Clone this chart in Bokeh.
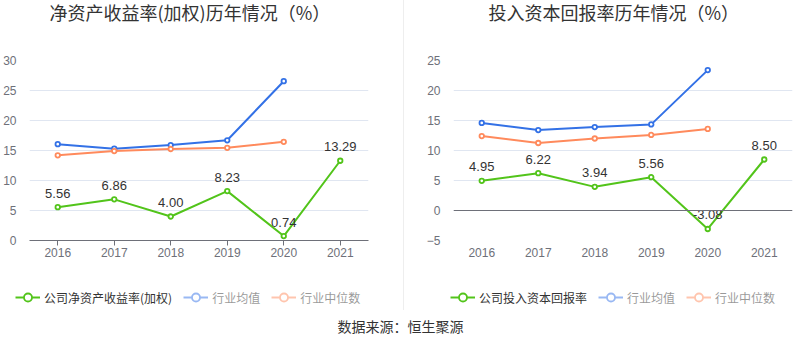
from bokeh.plotting import figure
from bokeh.models import (Range1d, FactorRange, FixedTicker, Legend, LegendItem,
                          Span, Label, Spacer, ColumnDataSource)
from bokeh.layouts import row, column
from bokeh.embed import file_html
from bokeh.resources import INLINE
from bokeh.core.properties import value

# ---------------- data ----------------
years = ["2016", "2017", "2018", "2019", "2020", "2021"]
industry_years = ["2016", "2017", "2018", "2019", "2020"]

roe_company = [5.56, 6.86, 4.00, 8.23, 0.74, 13.29]
roe_mean = [16.05, 15.3, 15.9, 16.7, 26.55]
roe_median = [14.2, 14.9, 15.25, 15.45, 16.45]
roe_ticks = [0, 5, 10, 15, 20, 25, 30]

roic_company = [4.95, 6.22, 3.94, 5.56, -3.08, 8.50]
roic_mean = [14.6, 13.4, 13.9, 14.35, 23.4]
roic_median = [12.4, 11.25, 12.0, 12.6, 13.6]
roic_ticks = [-5, 0, 5, 10, 15, 20, 25]

GREEN = "#52c41a"
BLUE = "#3371e6"
ORANGE = "#ff8a5c"
GRID = "#e0e6f1"
AXIS = "#6e7079"
CJK = "Noto Sans CJK SC"
LATIN = "Liberation Sans"
NAN = float("nan")


def blank(width, height):
    f = figure(width=width, height=height, output_backend="svg", toolbar_location=None,
               x_range=Range1d(0, width), y_range=Range1d(0, height),
               x_axis_location=None, y_axis_location=None, min_border=0,
               frame_align=False)
    f.outline_line_color = None
    f.grid.visible = False
    return f


def title_fig(text, width, x):
    t = blank(width, 30)
    t.add_layout(Label(x=x, y=19, text=text, text_align="left", text_baseline="middle",
                       text_font=CJK, text_font_size="18px", text_color="#333333"))
    return t


def legend_fig(company_label, width, x):
    f = blank(width, 35)
    # swatch-only renderers (no drawable points)
    sw = ColumnDataSource(dict(x=[NAN], y=[NAN]))
    lc = f.line("x", "y", source=sw, line_color=GREEN, line_width=2)
    sc = f.scatter("x", "y", source=sw, line_color=GREEN, line_width=1.8, fill_color="white")
    ml = f.line("x", "y", source=sw, line_color=BLUE, line_width=2, visible=False)
    ms = f.scatter("x", "y", source=sw, line_color=BLUE, line_width=1.8, fill_color="white",
                   visible=False)
    dl = f.line("x", "y", source=sw, line_color=ORANGE, line_width=2, visible=False)
    ds = f.scatter("x", "y", source=sw, line_color=ORANGE, line_width=1.8, fill_color="white",
                   visible=False)
    legend = Legend(items=[
        LegendItem(label=company_label, renderers=[lc, sc]),
        LegendItem(label="行业均值", renderers=[ml, ms]),
        LegendItem(label="行业中位数", renderers=[dl, ds]),
    ], location=(x, 3), orientation="horizontal", click_policy="hide",
        inactive_fill_color="white", inactive_fill_alpha=0.5,
        padding=0, margin=0, spacing=11, label_standoff=4,
        glyph_width=25, glyph_height=20,
        label_text_font=CJK, label_text_font_size="12px", label_text_color="#333333",
        border_line_color=None, background_fill_alpha=0)
    f.add_layout(legend)
    return f


def make_chart(company, mean, median, ticks, width, mb_left, mb_right, zero_is_bottom):
    p = figure(width=width, height=245, output_backend="svg", toolbar_location=None,
               x_range=FactorRange(factors=years),
               y_range=Range1d(ticks[0], ticks[-1]),
               min_border_left=mb_left, min_border_right=mb_right,
               min_border_top=30, min_border_bottom=35)
    p.outline_line_color = None

    p.xgrid.visible = False
    p.ygrid.grid_line_color = GRID
    p.ygrid.ticker = FixedTicker(ticks=ticks)

    p.yaxis.ticker = FixedTicker(ticks=ticks)
    p.yaxis.axis_line_color = None
    p.yaxis.major_tick_line_color = None
    p.yaxis.minor_tick_line_color = None
    p.yaxis.major_label_standoff = 7
    p.yaxis.major_label_text_font = LATIN
    p.yaxis.major_label_text_font_size = "12px"
    p.yaxis.major_label_text_color = AXIS

    p.xaxis.major_label_text_font = LATIN
    p.xaxis.major_label_text_font_size = "12px"
    p.xaxis.major_label_text_color = AXIS
    p.xaxis.major_tick_out = 5
    p.xaxis.major_tick_in = 0
    p.xaxis.major_label_standoff = 2
    if zero_is_bottom:
        p.xaxis.axis_line_color = AXIS
        p.xaxis.major_tick_line_color = AXIS
    else:
        p.xaxis.axis_line_color = None
        p.xaxis.major_tick_line_color = None
        p.add_layout(Span(location=0, dimension="width", line_color=AXIS, line_width=1))

    csrc = ColumnDataSource(dict(x=years, y=company, lab=[f"{v:.2f}" for v in company]))
    isrc = ColumnDataSource(dict(x=industry_years, mean=mean, median=median))

    p.line("x", "mean", source=isrc, line_color=BLUE, line_width=2)
    p.scatter("x", "mean", source=isrc, size=4.5, line_color=BLUE, line_width=1.8,
              fill_color="white")
    p.line("x", "median", source=isrc, line_color=ORANGE, line_width=2)
    p.scatter("x", "median", source=isrc, size=4.5, line_color=ORANGE, line_width=1.8,
              fill_color="white")
    p.line("x", "y", source=csrc, line_color=GREEN, line_width=2)
    p.scatter("x", "y", source=csrc, size=4.5, line_color=GREEN, line_width=1.8,
              fill_color="white")
    p.text("x", "y", text="lab", source=csrc, text_align="center", text_baseline="middle",
           y_offset=-14, text_font=value(LATIN), text_font_size="13px", text_color="#333333")
    return p


p1 = make_chart(roe_company, roe_mean, roe_median, roe_ticks, 403, 29, 35, True)
p2 = make_chart(roic_company, roic_mean, roic_median, roic_ticks, 396, 49, 8, False)

t1 = title_fig("净资产收益率(加权)历年情况（%）", 403, 49)
t2 = title_fig("投入资本回报率历年情况（%）", 396, 84)

l1 = legend_fig("公司净资产收益率(加权)", 403, 15)
l2 = legend_fig("公司投入资本回报率", 396, 46)

sep = Spacer(width=1, height=310, styles={"background-color": "#eeeeee"})

p3 = blank(800, 48)
p3.add_layout(Label(x=400, y=33, text="数据来源：恒生聚源", text_align="center",
                    text_baseline="middle", text_font=CJK, text_font_size="14px",
                    text_color="#333333"))

layout = column(row(column(t1, p1, l1), sep, column(t2, p2, l2)), p3)
open("out.html", "w").write(file_html(layout, INLINE))
